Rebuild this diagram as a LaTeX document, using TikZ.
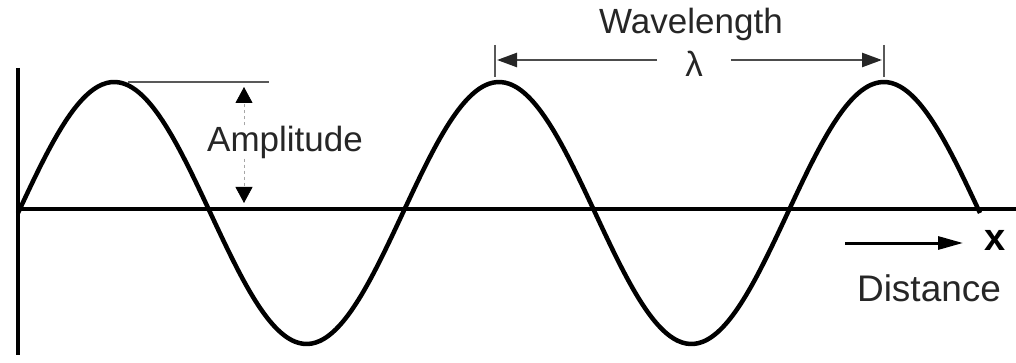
\documentclass[tikz,border=0pt]{standalone}
\usepackage{fontspec}
\setmainfont{Liberation Sans}
\usetikzlibrary{arrows.meta, positioning}

\begin{document}
\begin{tikzpicture}[x=1pt, y=-1pt,
  axis/.style={line width=3.5pt, black},
  wave/.style={line width=4.5pt, black, line join=round},
  txt/.style={font=\fontsize{35}{40}\selectfont, text=black!85, inner sep=0pt},
  guide/.style={line width=2.5pt, black!65},
  dimarrow/.style={line width=2.5pt, black!70, -{Triangle[length=20pt, width=14pt, black!85]}},
  amparrow/.style={line width=0.8pt, black!35, dashed, -{Triangle[length=16pt, width=17pt, black]}},
]
  \useasboundingbox (0,0) rectangle (1016,363);

  % axes
  \coordinate (origin) at (18,209);
  \coordinate (ytop) at (18,68);
  \coordinate (ybot) at (18,355);
  \coordinate (xend) at (1016,209);
  \draw[axis] (ytop) -- (ybot);
  \draw[axis] (origin) -- (xend);

  % wave (x in degrees, 384.8px per period)
  \draw[wave] plot[domain=0:900, samples=240, smooth] ({18 + 1.06889*\x}, {213 - 131*sin(\x)});

  % amplitude
  \coordinate (amptop) at (244,87);
  \coordinate (ampbot) at (244,203);
  \draw[guide] (128,82) -- (269,82);
  \node[txt] (amp) at (285,142) {Amplitude};
  \draw[amparrow] (amp.north -| amptop) -- (amptop);
  \draw[amparrow] (amp.south -| ampbot) -- (ampbot);

  % wavelength
  \node[txt] (wl) at (691,24) {Wavelength};
  \node[txt] (lam) at (694,64) {λ};
  \coordinate (tickL) at (495,60);
  \coordinate (tickR) at (884,60);
  \draw[guide] (495,45) -- (495,77);
  \draw[guide] (884,45) -- (884,77);
  \draw[dimarrow] ([xshift=-28pt]lam.west |- tickL) -- ([xshift=2pt]tickL);
  \draw[dimarrow] ([xshift=28pt]lam.east |- tickR) -- ([xshift=-2pt]tickR);

  % distance
  \node[txt, font=\fontsize{38}{40}\selectfont\bfseries, text=black] (xlab) at (995,240) {x};
  \node[txt, font=\fontsize{37}{40}\selectfont] (dist) at (929,288) {Distance};
  \coordinate (dstart) at (845,243);
  \coordinate (dtip) at (963,243);
  \draw[line width=3pt, black, -{Triangle[length=25pt, width=13pt]}] (dstart) -- (dtip);
\end{tikzpicture}
\end{document}
